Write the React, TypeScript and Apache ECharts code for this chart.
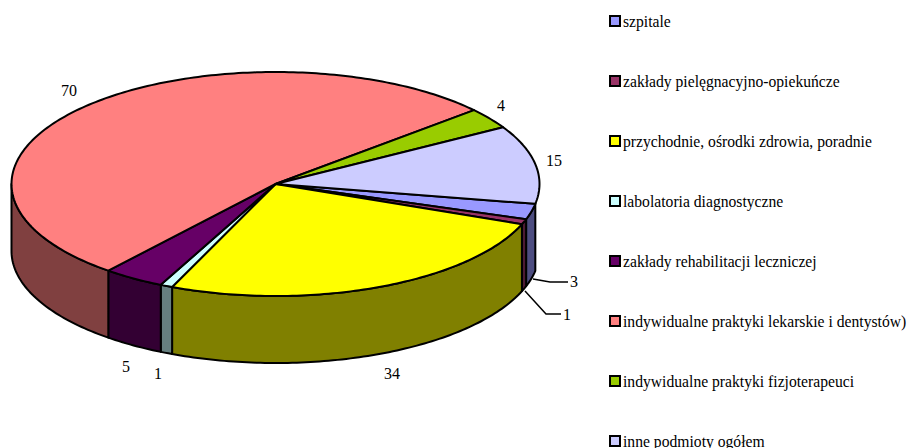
import React, { useEffect, useRef } from "react";
import * as echarts from "echarts";

const categories = [
  "szpitale",
  "zakłady pielęgnacyjno-opiekuńcze",
  "przychodnie, ośrodki zdrowia, poradnie",
  "labolatoria diagnostyczne",
  "zakłady rehabilitacji leczniczej",
  "indywidualne praktyki lekarskie i dentystów)",
  "indywidualne praktyki fizjoterapeuci",
  "inne podmioty ogółem",
];
const values = [3, 1, 34, 1, 5, 70, 4, 15];
const topColors = ["#9999FF", "#993366", "#FFFF00", "#CCFFFF", "#660066", "#FF8080", "#99CC00", "#CCCCFF"];
const wallColors = ["#4D4D80", "#4D1A33", "#808000", "#668080", "#330033", "#804040", "#4D6600", "#666680"];

const PIE = { cx: 275.5, cy: 184, rx: 264, ry: 112, depth: 67, start: 100.2 };
const LABEL_AT: [number, number][] = [
  [574, 281], [567, 314], [392, 373], [158, 373], [126, 366], [69, 90], [501, 105], [554, 160],
];
const LEADERS: Record<number, [number, number][]> = {
  0: [[533, 279], [550, 282], [568, 282]],
  1: [[525, 291], [546, 314], [561, 314]],
};
const FONT = '16px "Liberation Serif", "Times New Roman", serif';

const total = values.reduce((a, b) => a + b, 0);
const rim = (t: number): [number, number] => {
  const r = (t * Math.PI) / 180;
  return [PIE.cx + PIE.rx * Math.sin(r), PIE.cy - PIE.ry * Math.cos(r)];
};
const arc = (a: number, b: number): [number, number][] => {
  const n = Math.max(2, Math.ceil(Math.abs(b - a) / 1));
  const pts: [number, number][] = [];
  for (let i = 0; i <= n; i++) pts.push(rim(a + ((b - a) * i) / n));
  return pts;
};

function makeSeries(i: number, from: number) {
  return {
    type: "custom",
    name: categories[i],
    coordinateSystem: "none",
    data: [[values[i]]],
    itemStyle: { color: topColors[i] },
    silent: true,
    renderItem: (_: any, api: any) => {
      const v = api.value(0);
      const to = from + (v / total) * 360;
      const children: any[] = [];
      const line = { stroke: "#000", lineWidth: 2, lineJoin: "round" };
      const a = Math.max(from, 90);
      const b = Math.min(to, 270);
      if (b > a) {
        const front = arc(a, b);
        const back = front.map(([x, y]) => [x, y + PIE.depth]).reverse();
        children.push({
          type: "polygon",
          shape: { points: [...front, ...back] },
          style: { fill: wallColors[i], ...line },
        });
      }
      children.push({
        type: "polygon",
        shape: { points: [[PIE.cx, PIE.cy], ...arc(from, to)] },
        style: { fill: topColors[i], ...line },
      });
      if (LEADERS[i]) {
        children.push({
          type: "polyline",
          shape: { points: LEADERS[i] },
          style: { fill: "none", stroke: "#000", lineWidth: 1.5 },
        });
      }
      children.push({
        type: "text",
        style: {
          text: String(v),
          x: LABEL_AT[i][0],
          y: LABEL_AT[i][1],
          font: FONT,
          fill: "#000",
          align: "center",
          verticalAlign: "middle",
        },
      });
      return { type: "group", children };
    },
  };
}

export default function App() {
  const ref = useRef<HTMLDivElement>(null);
  useEffect(() => {
    document.body.style.margin = "0";
    const chart = echarts.init(ref.current!, undefined, { renderer: "svg" });
    let acc = PIE.start;
    const series = values.map((v, i) => {
      const s = makeSeries(i, acc);
      acc += (v / total) * 360;
      return s;
    });
    chart.setOption({
      animation: false,
      backgroundColor: "#fff",
      legend: {
        orient: "vertical",
        left: 609,
        top: 13,
        height: 520,
        padding: 0,
        itemWidth: 10,
        itemHeight: 10,
        itemGap: 44,
        icon: "rect",
        data: categories,
        selectedMode: false,
        itemStyle: { borderColor: "#000", borderWidth: 2 },
        textStyle: {
          fontFamily: '"Liberation Serif", "Times New Roman", serif',
          fontSize: 15.65,
          color: "#000",
          padding: [0, 0, 0, -2],
          height: 14,
          lineHeight: 14,
        },
      },
      series,
    });
    return () => chart.dispose();
  }, []);
  return <div ref={ref} style={{ width: 908, height: 448 }} />;
}
